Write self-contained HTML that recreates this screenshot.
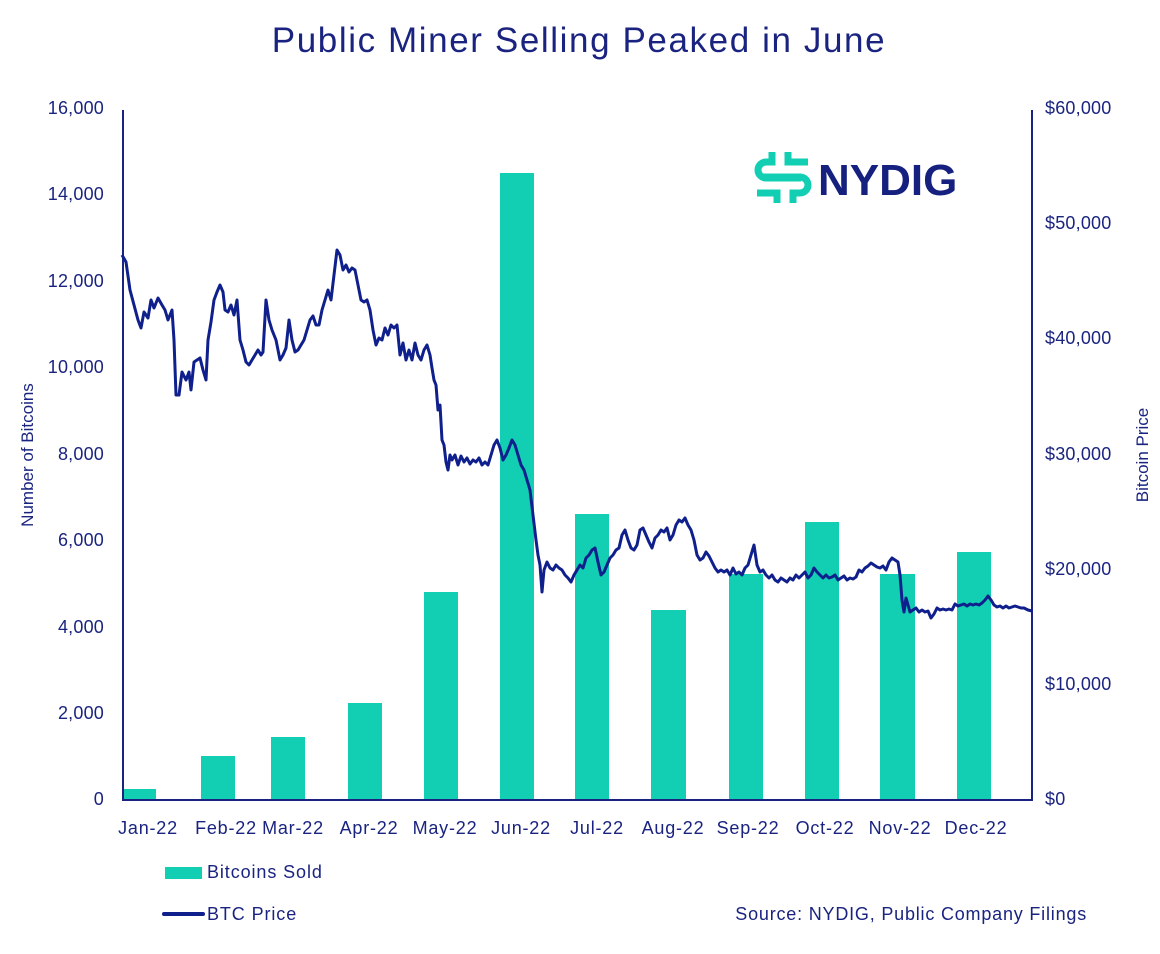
<!DOCTYPE html>
<html><head><meta charset="utf-8"><style>
body{margin:0;background:#fff;}
svg text{font-family:"Liberation Sans",sans-serif;fill:#1a2480;}
</style></head><body>
<svg width="1160" height="949" viewBox="0 0 1160 949" xmlns="http://www.w3.org/2000/svg">
<rect width="1160" height="949" fill="#fff"/>
<text x="579" y="52" font-size="35" text-anchor="middle" letter-spacing="1.6">Public Miner Selling Peaked in June</text>
<g font-size="18" text-anchor="end" letter-spacing="0.2">
<text x="104" y="114">16,000</text>
<text x="104" y="200">14,000</text>
<text x="104" y="287">12,000</text>
<text x="104" y="373">10,000</text>
<text x="104" y="460">8,000</text>
<text x="104" y="546">6,000</text>
<text x="104" y="633">4,000</text>
<text x="104" y="719">2,000</text>
<text x="104" y="805">0</text>
</g>
<g font-size="18" text-anchor="start" letter-spacing="0.2">
<text x="1045" y="114">$60,000</text>
<text x="1045" y="229">$50,000</text>
<text x="1045" y="344">$40,000</text>
<text x="1045" y="460">$30,000</text>
<text x="1045" y="575">$20,000</text>
<text x="1045" y="690">$10,000</text>
<text x="1045" y="805">$0</text>
</g>
<text transform="translate(33,455) rotate(-90)" font-size="17" text-anchor="middle">Number of Bitcoins</text>
<text transform="translate(1148,455) rotate(-90)" font-size="17" text-anchor="middle">Bitcoin Price</text>
<g fill="#12cfb3">
<rect x="124" y="789" width="32" height="11"/>
<rect x="201" y="756" width="34" height="44"/>
<rect x="271" y="737" width="34" height="63"/>
<rect x="348" y="703" width="34" height="97"/>
<rect x="424" y="592" width="34" height="208"/>
<rect x="500" y="173" width="34" height="627"/>
<rect x="575" y="514" width="34" height="286"/>
<rect x="651" y="610" width="35" height="190"/>
<rect x="729" y="574" width="34" height="226"/>
<rect x="805" y="522" width="34" height="278"/>
<rect x="880" y="574" width="35" height="226"/>
<rect x="957" y="552" width="34" height="248"/>
</g>
<line x1="123" y1="110" x2="123" y2="801" stroke="#1a2480" stroke-width="2"/>
<line x1="1032" y1="110" x2="1032" y2="801" stroke="#1a2480" stroke-width="2"/>
<line x1="122" y1="800" x2="1033" y2="800" stroke="#1a2480" stroke-width="2"/>
<polyline fill="none" stroke="#0f1f8c" stroke-width="3" stroke-linejoin="round" points="122,255 126,262 130,290 134,305 138,320 141,328 144,312 148,318 151,300 154,308 158,298 162,305 165,310 168,320 172,310 174,340 176,395 179,395 182,372 186,380 189,372 191,390 194,362 197,360 200,358 203,370 206,380 208,340 211,322 214,300 217,292 220,285 223,292 225,310 228,312 231,305 234,315 237,300 240,340 243,350 246,362 249,365 252,360 255,355 258,350 261,355 263,352 266,300 269,320 272,330 276,340 280,360 283,355 286,348 289,320 292,340 295,352 298,350 301,345 304,340 307,330 310,320 313,316 316,325 319,325 322,310 325,300 328,290 331,300 334,275 337,250 340,255 343,270 346,265 349,272 352,268 355,270 358,285 361,300 364,302 367,300 370,310 373,330 376,345 379,338 382,340 385,328 388,335 391,325 394,328 397,325 400,355 403,343 406,360 409,350 412,360 415,343 418,355 421,360 424,350 427,345 430,355 432,368 434,380 436,385 438,410 440,405 442,440 444,445 446,462 448,470 450,455 452,460 455,455 458,465 461,456 464,462 467,458 470,464 473,460 476,462 479,458 482,465 485,462 488,465 491,455 494,445 497,440 500,448 503,460 506,455 509,448 512,440 515,445 518,455 521,465 524,470 527,480 530,490 533,515 536,540 538,555 540,565 542,592 544,570 547,562 550,568 553,570 556,565 559,568 562,570 565,575 568,578 571,582 574,575 577,570 580,565 583,568 586,558 589,555 592,550 595,548 598,562 601,575 604,572 607,565 610,558 613,555 616,550 619,548 622,535 625,530 628,540 631,548 634,550 637,545 640,530 643,528 646,535 649,542 652,548 655,538 658,535 661,530 664,532 667,528 670,540 673,535 676,525 679,520 682,522 685,518 688,525 691,530 694,540 697,555 700,560 703,558 706,552 709,556 712,562 715,568 718,572 721,570 724,572 727,570 730,575 733,568 736,574 739,572 742,575 745,568 748,565 751,555 754,545 757,565 760,572 763,570 766,575 769,578 772,575 775,580 778,582 781,578 784,580 787,582 790,578 793,580 796,575 799,578 802,575 805,572 808,578 811,575 814,568 817,572 820,575 823,578 826,575 829,578 832,577 835,575 838,580 841,578 844,576 847,580 850,578 853,579 856,577 859,570 862,572 865,568 868,566 871,563 874,565 877,567 880,568 883,566 886,570 889,562 892,558 895,560 898,562 900,575 902,600 904,612 906,598 908,605 910,612 913,610 916,608 919,612 922,610 925,612 928,611 931,618 934,614 937,608 940,610 943,609 946,610 949,609 952,610 955,604 958,606 961,605 964,604 967,606 970,604 973,605 976,604 979,605 982,603 985,600 988,596 991,600 994,605 997,607 1000,606 1003,608 1006,606 1009,608 1012,607 1015,606 1018,607 1021,608 1024,608 1028,610 1032,611"/>
<g font-size="18" text-anchor="middle" letter-spacing="0.8">
<text x="148" y="834">Jan-22</text>
<text x="226" y="834">Feb-22</text>
<text x="293" y="834">Mar-22</text>
<text x="369" y="834">Apr-22</text>
<text x="445" y="834">May-22</text>
<text x="521" y="834">Jun-22</text>
<text x="597" y="834">Jul-22</text>
<text x="673" y="834">Aug-22</text>
<text x="748" y="834">Sep-22</text>
<text x="825" y="834">Oct-22</text>
<text x="900" y="834">Nov-22</text>
<text x="976" y="834">Dec-22</text>
</g>
<rect x="165" y="867" width="37" height="12" fill="#12cfb3"/>
<text x="207" y="878" font-size="18" letter-spacing="0.9">Bitcoins Sold</text>
<line x1="164" y1="914" x2="203" y2="914" stroke="#0f1f8c" stroke-width="4" stroke-linecap="round"/>
<text x="207" y="920" font-size="18" letter-spacing="0.9">BTC Price</text>
<text x="1087" y="920" font-size="18" text-anchor="end" letter-spacing="0.8">Source: NYDIG, Public Company Filings</text>
<g fill="none" stroke="#12cfb3" stroke-width="7" stroke-linecap="butt">
<path d="M772,152 V162 H766 A8,8 0 0 0 766,178 H801"/>
<path d="M793,203 V193 H800 A8,8 0 0 0 800,177 H763"/>
<path d="M788,152 V162 H808"/>
<path d="M777,203 V193 H757"/>
</g>
<text x="818" y="195" font-size="44" font-weight="bold" style="fill:#15207f">NYDIG</text>
</svg>
</body></html>
